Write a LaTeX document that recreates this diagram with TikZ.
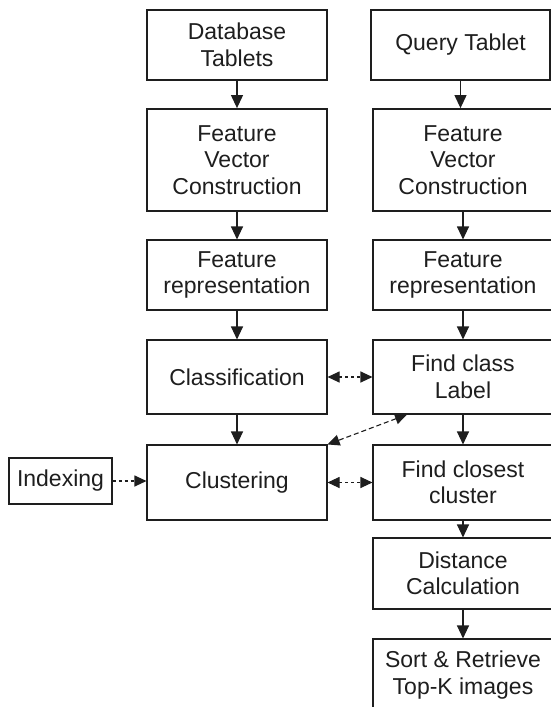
\documentclass[tikz,border=0pt]{standalone}
\usepackage{fontspec}
\setmainfont{Liberation Sans}
\usetikzlibrary{arrows.meta}
\definecolor{ink}{HTML}{1E1E1E}
\tikzset{
  box/.style={draw=ink, line width=1.1pt, inner sep=0pt, align=center,
    text=ink, font=\fontsize{23}{26.5}\selectfont, minimum width=180pt},
  thickbox/.style={box, line width=1.8pt},
  flow/.style={draw=ink, line width=1.1pt, -{Triangle[length=13pt,width=12pt]}},
  link/.style={draw=ink, line width=1.1pt, dash pattern=on 3pt off 3pt,
    {Triangle[length=12pt,width=11pt]}-{Triangle[length=12pt,width=11pt]}},
  diag/.style={link, dash pattern=on 5pt off 3pt},
  feed/.style={draw=ink, line width=1.1pt, dash pattern=on 3pt off 3pt,
    -{Triangle[length=12pt,width=11pt]}}
}
\begin{document}
\begin{tikzpicture}[x=1pt,y=-1pt]
\useasboundingbox (0,0) rectangle (551,707);
\clip (0,0) rectangle (551,707);
\fill[white] (0,0) rectangle (551,707);

% left column: database side
\node[box, minimum height=70pt] (db) at (237,45) {Database\\Tablets};
\node[thickbox, minimum height=102pt] (fvl) at (237,160) {Feature\\Vector\\Construction};
\node[box, minimum height=70pt] (frl) at (237,275) {Feature\\representation};
\node[box, minimum height=74pt] (cls) at (237,377) {Classification};
\node[box, minimum height=75pt] (clu) at (237,482.5) {Clustering};
\node[box, minimum width=103pt, minimum height=46pt] (idx) at (60.5,481) {Indexing};

% right column: query side
\node[box, minimum width=179pt, minimum height=70pt] (qt) at (460.5,45) {Query Tablet};
\node[thickbox, minimum height=102pt] (fvr) at (463,160) {Feature\\Vector\\Construction};
\node[box, minimum height=70pt] (frr) at (463,275) {Feature\\representation};
\node[box, minimum height=74pt] (fcl) at (463,377) {Find class\\Label};
\node[box, minimum height=75pt] (fcc) at (463,482.5) {Find closest\\cluster};
\node[box, minimum height=71pt] (dist) at (463,573.5) {Distance\\Calculation};
\node[box, minimum height=72pt] (sort) at (463,675) {Sort \& Retrieve\\Top-K images};

% vertical flow, left
\draw[flow] (db.south) -- (fvl.north);
\draw[flow] (fvl.south) -- (frl.north);
\draw[flow] (frl.south) -- (cls.north);
\draw[flow] (cls.south) -- (clu.north);

% vertical flow, right
\draw[flow] (qt.south) -- (qt.south |- fvr.north);
\draw[flow] (fvr.south) -- (frr.north);
\draw[flow] (frr.south) -- (fcl.north);
\draw[flow] (fcl.south) -- (fcc.north);
\draw[flow] (fcc.south) -- (dist.north);
\draw[flow] (dist.south) -- (sort.north);

% cross links
\draw[link] (cls.east) -- (fcl.west);
\draw[link] (clu.east) -- (fcc.west);
\coordinate (fclb) at ([xshift=-56pt]fcl.south);
\draw[diag] (fclb) -- (clu.north east);
\draw[feed] (idx.east) -- (idx.east -| clu.west);
\end{tikzpicture}
\end{document}
